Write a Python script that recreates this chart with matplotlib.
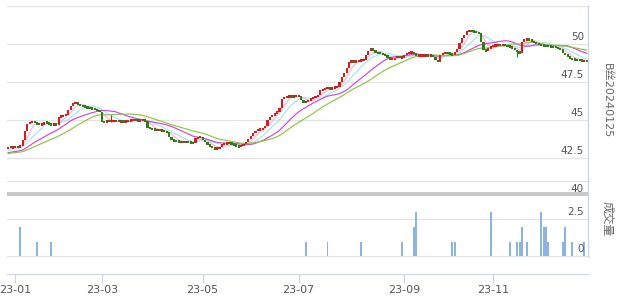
"""Candlestick chart with MA lines and a sparse volume panel (B丝20240125)."""

import matplotlib

matplotlib.use("Agg")
import matplotlib.pyplot as plt
import numpy as np
import pandas as pd

plt.rcParams["font.family"] = ["DejaVu Sans", "Noto Sans CJK SC"]

W, H = 618, 304

# closes before the first visible bar (only used to warm up the moving averages)
prior_closes = [42.7, 42.75, 42.65, 42.7, 42.7, 42.75, 42.7, 42.65, 42.7, 42.72,
                42.7, 42.68, 42.7, 42.72, 42.7, 42.7, 42.68, 42.72, 42.7, 42.7,
                42.85, 42.9, 42.9, 42.92, 42.93,
                43.05, 43.1, 43.05, 43.1]

closes = [
    43.25, 43.2, 43.2, 43.25, 43.2, 43.3, 43.7, 44.25, 44.75, 44.85,
    44.9, 44.8, 44.75, 44.7, 44.7, 44.85, 44.8, 44.72, 44.68, 44.72,
    44.7, 45.2, 45.25, 45.3, 45.35, 45.65, 45.95, 46.1, 46.1, 46.05,
    45.95, 45.9, 45.85, 45.8, 45.77, 45.75, 45.68, 45.62, 45.55, 44.9,
    44.85, 44.95, 44.9, 44.95, 44.95, 44.95, 44.9, 44.92, 44.88, 44.9,
    44.95, 45.0, 45.0, 44.98, 44.95, 45.0, 45.0, 44.95, 44.5, 44.45,
    44.4, 44.35, 44.35, 44.3, 44.3, 44.25, 44.2, 43.9, 43.7, 43.62,
    43.6, 43.57, 43.57, 43.55, 43.57, 43.55, 43.5, 43.47, 43.8, 43.85,
    43.9, 43.7, 43.55, 43.35, 43.3, 43.15, 43.12, 43.14, 43.2, 43.4,
    43.45, 43.47, 43.48, 43.45, 43.35, 43.28, 43.25, 43.3, 43.4, 43.57,
    43.75, 43.95, 44.13, 44.3, 44.36, 44.4, 44.45, 44.6, 45.0, 45.2,
    45.3, 45.44, 45.55, 45.8, 46.4, 46.5, 46.53, 46.55, 46.53, 46.55,
    46.58, 46.6, 46.3, 46.15, 46.2, 46.3, 46.4, 46.5, 46.55, 46.62,
    46.95, 47.0, 47.08, 47.1, 47.05, 47.1, 47.15, 47.2, 47.5, 47.85,
    48.1, 48.4, 48.84, 48.85, 48.82, 48.85, 48.9, 48.95, 48.95, 49.28,
    49.55, 49.71, 49.55, 49.45, 49.4, 49.38, 49.3, 49.25, 49.1, 49.0,
    49.0, 49.06, 49.2, 49.1, 49.1, 49.3, 49.4, 49.43, 49.45, 49.4,
    49.21, 49.25, 49.25, 49.25, 49.25, 49.24, 49.25, 49.17, 48.95, 48.84,
    49.25, 49.4, 49.43, 49.4, 49.35, 49.28, 49.5, 49.65, 50.04, 50.4,
    50.6, 50.86, 50.86, 50.85, 50.8, 50.75, 50.7, 50.15, 49.6, 49.55,
    49.7, 49.85, 49.9, 49.93, 49.93, 49.92, 49.93, 49.92, 49.85, 49.8,
    49.75, 49.6, 49.5, 49.39, 50.15, 50.3, 50.31, 50.3, 50.15, 50.1,
    50.04, 49.95, 49.93, 49.9, 49.87, 49.85, 49.82, 49.8, 49.78, 49.7,
    49.65, 49.4, 49.3, 49.2, 49.05, 48.99, 48.97, 48.95, 48.93, 48.9,
    48.9, 48.88,
]

# a few visible shadows (bar index, high, low)
wick_idx = [43, 212]
wick_hi = [45.3, 49.6]
wick_lo = [44.9, 49.15]

# sparse volume (bar index, lots)
vol_idx = [5, 12, 18, 124, 133, 147, 164, 169, 170, 185, 186, 201, 209, 212,
           213, 214, 216, 222, 223, 224, 225, 231, 232, 235, 240]
vol_val = [2, 1, 1, 1, 1, 1, 1, 2, 3, 1, 1, 3, 1, 1,
           1, 2, 1, 3, 2, 2, 1, 1, 2, 1, 1]

holidays = ["2023-01-02", "2023-01-23", "2023-01-24", "2023-01-25", "2023-01-26",
            "2023-01-27", "2023-04-05", "2023-05-01", "2023-05-02", "2023-05-03",
            "2023-06-22", "2023-06-23", "2023-09-29", "2023-10-02", "2023-10-03",
            "2023-10-04", "2023-10-05", "2023-10-06"]
tick_months = ["2023-01", "2023-03", "2023-05", "2023-07", "2023-09", "2023-11"]

ma_periods = [5, 10, 20, 30]
ma_colors = ["#f6b3d0", "#9ee8f2", "#d445d8", "#8cc63f"]

price_ticks = [40, 42.5, 45, 47.5, 50]
vol_ticks = [0, 2.5]

UP, DOWN = "#dd1a1a", "#2f7d14"
GRID, AXIS = "#e3e3e3", "#ccd6eb"


def fig_rect(x0, y0, x1, y1):
    return [x0 / W, 1 - y1 / H, (x1 - x0) / W, (y1 - y0) / H]


days = pd.bdate_range("2022-12-28", "2023-12-31")
days = days[~days.isin(pd.to_datetime(holidays))][: len(closes)]
n = len(closes)
x = np.arange(n)

full = pd.Series(prior_closes + closes, dtype=float)
opens = np.array(([prior_closes[-1]] + closes)[:-1])
cl = np.array(closes)

fig = plt.figure(figsize=(W / 100, H / 100), dpi=100)

# ---- price panel
ax = fig.add_axes(fig_rect(7, 6, 588, 196))
ax.set_xlim(-0.5, n - 0.5)
ax.set_ylim(40, 52.5)
ax.axis("off")
for v in price_ticks[1:] + [52.5]:
    ax.axhline(v, color=GRID, lw=0.9, zorder=0)
for v in price_ticks:
    ax.annotate(f"{v:g}", (1, v), xycoords=("axes fraction", "data"),
                xytext=(-3, 1.5), textcoords="offset points", ha="right", va="bottom",
                fontsize=7.5, color="#555555")

for p, col in zip(ma_periods, ma_colors):
    ma = full.rolling(p).mean().to_numpy()[len(prior_closes):]
    ax.plot(x, ma, color=col, lw=0.85, zorder=2)

# flat days still show as a small block, centred on the close
mid = (opens + cl) / 2
body_h = np.maximum(np.abs(cl - opens), 0.16)
colors = [UP if c >= o else DOWN for o, c in zip(opens, cl)]
ax.bar(x, body_h, bottom=mid - body_h / 2, width=0.9, color=colors, lw=0, zorder=3)
for i, hi, lo in zip(wick_idx, wick_hi, wick_lo):
    ax.vlines(i, lo, hi, color=colors[i], lw=0.8, zorder=3)

# ---- volume panel
vax = fig.add_axes(fig_rect(7, 180.5, 588, 274))
vax.set_xlim(-0.5, n - 0.5)
vax.set_ylim(-(274 - 256.3) / 14.8, (256.3 - 180.5) / 14.8)
vax.patch.set_alpha(0)
for s in ["top", "left", "right"]:
    vax.spines[s].set_visible(False)
vax.spines["bottom"].set_color(AXIS)
vax.spines["bottom"].set_linewidth(0.9)
vax.set_yticks([])
for v in vol_ticks:
    vax.axhline(v, color=GRID, lw=0.9, zorder=0)
    vax.annotate(f"{v:g}", (1, v), xycoords=("axes fraction", "data"),
                 xytext=(-3, 1.5), textcoords="offset points", ha="right", va="bottom",
                 fontsize=7.5, color="#555555")
vax.axhline(vax.get_ylim()[1], color=GRID, lw=0.9, zorder=0)
vax.bar(vol_idx, vol_val, width=0.8, color="#8db3e2", lw=0, zorder=2)

month_key = days.strftime("%Y-%m")
tick_pos = [int(np.argmax(month_key == m)) for m in tick_months]
vax.set_xticks(tick_pos)
vax.set_xticklabels([f"{m[2:4]}-{m[5:]}" for m in tick_months])
vax.tick_params(axis="x", length=6.5, width=0.9, color=AXIS, pad=1.5,
                labelsize=8, labelcolor="#555555")

# separator between panels and right border
fig.add_artist(plt.Rectangle((7 / W, 1 - 195.8 / H), 581 / W, 3.5 / H,
                             transform=fig.transFigure, color="#c8c8c8", lw=0))
fig.add_artist(plt.Line2D([588.3 / W, 588.3 / W], [1 - 6 / H, 1 - 257 / H],
                          transform=fig.transFigure, color=AXIS, lw=1.0))

fig.text(607 / W, 1 - 101 / H, "B丝20240125", rotation=-90, ha="center", va="center",
         fontsize=8, color="#666666", family=["DejaVu Sans", "Noto Sans CJK SC"])
fig.text(607 / W, 1 - 219 / H, "成交量", rotation=-90, ha="center", va="center",
         fontsize=8.5, color="#666666", family=["Noto Sans CJK SC", "DejaVu Sans"])

fig.savefig("out.png", dpi=100)
